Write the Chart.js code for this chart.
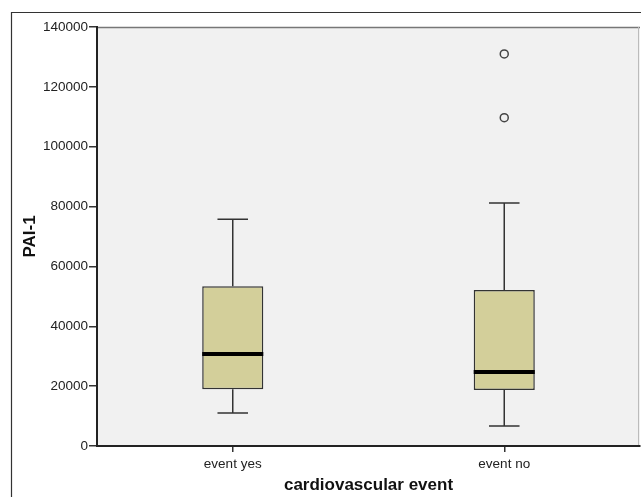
<!DOCTYPE html>
<html>
<head>
<meta charset="utf-8">
<script src="https://cdn.jsdelivr.net/npm/chart.js@4/dist/chart.umd.min.js"></script>
<style>
  html, body { margin: 0; padding: 0; background: #fff; overflow: hidden; }
  #wrap { width: 641px; height: 497px; }
  canvas { display: block; }
</style>
</head>
<body>
<div id="wrap"><canvas id="chart" width="641" height="497"></canvas></div>
<script>
// values
const categories = ['event yes', 'event no'];
const whiskerLow = [11000, 6700];
const q1 = [19000, 18700];
const median = [30700, 24700];
const q3 = [53400, 52100];
const whiskerHigh = [75800, 81200];
const outliers = [
    { x: 'event no', y: 109700 },
    { x: 'event no', y: 131000 }
];
const yTicks = [0, 20000, 40000, 60000, 80000, 100000, 120000, 140000];

// ---- frame + grey plot background ----
const framePlugin = {
    id: 'frame',
    beforeDraw(chart) {
        const ctx = chart.ctx;
        const a = chart.chartArea;
        ctx.save();
        ctx.fillStyle = '#ffffff';
        ctx.fillRect(0, 0, chart.width, chart.height);
        // outer box
        ctx.strokeStyle = '#333';
        ctx.lineWidth = 1.2;
        ctx.beginPath();
        ctx.moveTo(11.5, chart.height);
        ctx.lineTo(11.5, 12.5);
        ctx.lineTo(chart.width, 12.5);
        ctx.stroke();
        // plot area
        ctx.fillStyle = '#f1f1f1';
        ctx.fillRect(a.left, a.top, a.right - a.left, a.bottom - a.top);
        ctx.strokeStyle = '#777';
        ctx.lineWidth = 1.5;
        ctx.beginPath();
        ctx.moveTo(a.left, a.top + 0.5);
        ctx.lineTo(a.right, a.top + 0.5);
        ctx.stroke();
        ctx.strokeStyle = '#bbb';
        ctx.lineWidth = 1;
        ctx.beginPath();
        ctx.moveTo(a.right - 1.5, a.top);
        ctx.lineTo(a.right - 1.5, a.bottom);
        ctx.stroke();
        ctx.restore();
    }
};

// ---- whiskers and medians, placed through the chart scales ----
const boxPlugin = {
    id: 'boxparts',
    afterDatasetsDraw(chart) {
        const ctx = chart.ctx;
        const xs = chart.scales.x;
        const ys = chart.scales.y;
        const meta = chart.getDatasetMeta(0);
        ctx.save();
        categories.forEach((c, i) => {
            const bar = meta.data[i];
            const cx = xs.getPixelForValue(i);
            const half = bar.width / 2;
            const cap = bar.width / 4;
            ctx.strokeStyle = '#333';
            ctx.lineWidth = 1.5;
            ctx.beginPath();
            ctx.moveTo(cx, ys.getPixelForValue(q3[i]));
            ctx.lineTo(cx, ys.getPixelForValue(whiskerHigh[i]));
            ctx.moveTo(cx - cap, ys.getPixelForValue(whiskerHigh[i]));
            ctx.lineTo(cx + cap, ys.getPixelForValue(whiskerHigh[i]));
            ctx.moveTo(cx, ys.getPixelForValue(q1[i]));
            ctx.lineTo(cx, ys.getPixelForValue(whiskerLow[i]));
            ctx.moveTo(cx - cap, ys.getPixelForValue(whiskerLow[i]));
            ctx.lineTo(cx + cap, ys.getPixelForValue(whiskerLow[i]));
            ctx.stroke();
            ctx.strokeStyle = '#000';
            ctx.lineWidth = 4;
            ctx.beginPath();
            ctx.moveTo(cx - half, ys.getPixelForValue(median[i]));
            ctx.lineTo(cx + half, ys.getPixelForValue(median[i]));
            ctx.stroke();
        });
        ctx.restore();
    }
};

const ctx = document.getElementById('chart').getContext('2d');
new Chart(ctx, {
    type: 'bar',
    data: {
        labels: categories,
        datasets: [
            {
                label: 'PAI-1',
                data: categories.map((c, i) => [q1[i], q3[i]]),
                backgroundColor: '#d3cf9a',
                borderColor: '#333',
                borderWidth: 1.5,
                borderSkipped: false,
                categoryPercentage: 0.45,
                barPercentage: 0.5
            },
            {
                type: 'line',
                label: 'outliers',
                data: outliers,
                showLine: false,
                pointStyle: 'circle',
                pointRadius: 4,
                pointBorderWidth: 1.5,
                pointBorderColor: '#444',
                pointBackgroundColor: '#f1f1f1'
            }
        ]
    },
    options: {
        responsive: false,
        animation: false,
        layout: { autoPadding: false, padding: { left: 0, top: 27, right: 1, bottom: 0 } },
        plugins: {
            legend: { display: false },
            tooltip: { enabled: false }
        },
        scales: {
            x: {
                offset: true,
                grid: { offset: false, drawOnChartArea: false, drawTicks: true, tickLength: 6, tickColor: '#333', lineWidth: 1.5 },
                border: { display: true, color: '#222', width: 2 },
                ticks: { color: '#222', font: { family: 'Liberation Sans, Arial', size: 13.5 }, padding: 4, maxRotation: 0 },
                title: {
                    display: true, text: 'cardiovascular event', color: '#111',
                    font: { family: 'Liberation Sans, Arial', size: 17, weight: 'bold' },
                    padding: { top: 0, bottom: 1 }
                },
                afterFit(scale) {
                    scale.height = 51;
                    scale.paddingLeft = 0;
                    scale.paddingRight = 0;
                }
            },
            y: {
                min: 0,
                max: 140000,
                afterBuildTicks(scale) { scale.ticks = yTicks.map(v => ({ value: v })); },
                grid: { drawOnChartArea: false, drawTicks: true, tickLength: 8, tickColor: '#333', lineWidth: 1.5 },
                border: { display: true, color: '#222', width: 2 },
                ticks: {
                    color: '#222', font: { family: 'Liberation Sans, Arial', size: 13.5 }, padding: 1,
                    callback: v => String(v)
                },
                title: {
                    display: true, text: 'PAI-1', color: '#111',
                    font: { family: 'Liberation Sans, Arial', size: 17, weight: 'bold' },
                    padding: { top: 20, bottom: 0 }
                },
                afterFit(scale) { scale.width = 97; }
            }
        }
    },
    plugins: [framePlugin, boxPlugin]
});
</script>
</body>
</html>
